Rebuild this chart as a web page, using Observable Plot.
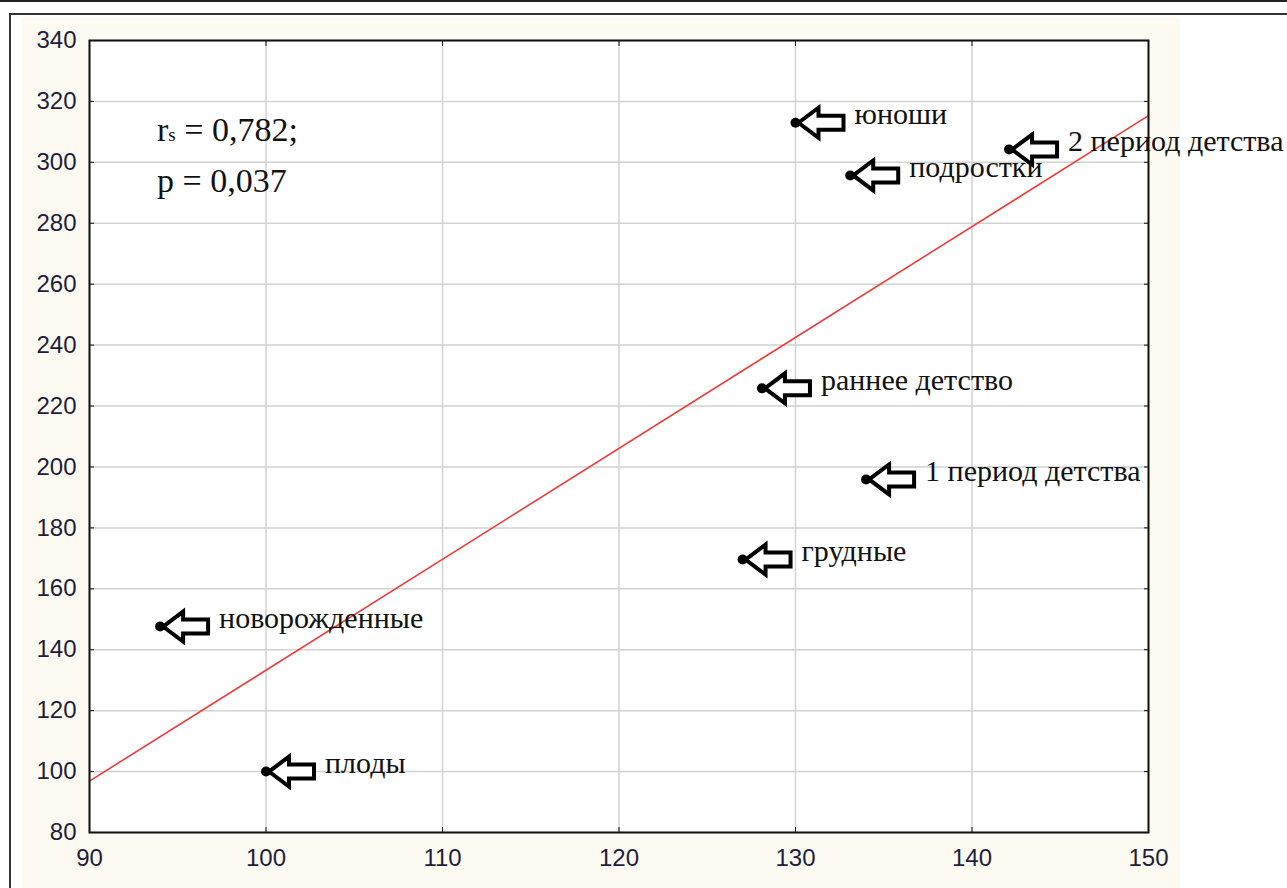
<!DOCTYPE html>
<html><head><meta charset="utf-8">
<script src="https://cdn.jsdelivr.net/npm/d3@7"></script>
<script src="https://cdn.jsdelivr.net/npm/@observablehq/plot@0.6"></script>
<style>
html,body{margin:0;padding:0;background:#fff;overflow:hidden;width:1287px;height:888px}
#topline{position:absolute;left:0;top:0;width:1287px;height:2px;background:#222}
#box{position:absolute;left:9px;top:13px;width:1300px;height:900px;border:2px solid #333;box-sizing:border-box}
#cream{position:absolute;left:22px;top:18px;width:1158px;height:870px;background:#fdfaf1}
#chart{position:absolute;left:0;top:0}
</style></head><body>
<div id="topline"></div><div id="box"></div><div id="cream"></div><div id="chart"></div>
<script>
// ---- data ----
const groups  = ["юноши", "2 период детства", "подростки", "раннее детство", "1 период детства", "грудные", "новорожденные", "плоды"];
const xValues = [130.0, 142.1, 133.1, 128.1, 134.0, 127.0, 94.0, 100.0];
const yValues = [313.0, 304.2, 295.7, 225.8, 195.9, 169.6, 147.6, 100.0];
const xTicks  = [90, 100, 110, 120, 130, 140, 150];
const yTicks  = [80, 100, 120, 140, 160, 180, 200, 220, 240, 260, 280, 300, 320, 340];
const rsValue = "0,782";
const pValue  = "0,037";

const data = groups.map((g, i) => ({group: g, x: xValues[i], y: yValues[i]}));

// least-squares regression line over the full x domain
const mx = d3.mean(xValues), my = d3.mean(yValues);
const slope = d3.sum(xValues, (x, i) => (x - mx) * (yValues[i] - my)) / d3.sum(xValues, x => (x - mx) ** 2);
const xDomain = d3.extent(xTicks);
const fitLine = xDomain.map(x => ({x, y: my + slope * (x - mx)}));

// hollow left-pointing arrow, tip at the point
const arrowSymbol = {
  draw(ctx) {
    ctx.moveTo(3, 0); ctx.lineTo(23, -15); ctx.lineTo(23, -7); ctx.lineTo(48, -7);
    ctx.lineTo(48, 7); ctx.lineTo(23, 7); ctx.lineTo(23, 15); ctx.closePath();
  }
};

const tickFont = "Liberation Sans, Arial, sans-serif";
const serif = "Liberation Serif, Times New Roman, serif";

const plot = Plot.plot({
  width: 1287, height: 888,
  marginLeft: 89, marginRight: 139, marginTop: 40, marginBottom: 56,
  style: {background: "transparent", overflow: "visible"},
  x: {domain: xDomain, axis: null},
  y: {domain: d3.extent(yTicks), axis: null},
  marks: [
    Plot.frame({fill: "white", stroke: null}),
    Plot.gridX(xTicks, {stroke: "#d2d2d2", strokeOpacity: 1, strokeWidth: 1.5}),
    Plot.gridY(yTicks, {stroke: "#d2d2d2", strokeOpacity: 1, strokeWidth: 1.5}),
    Plot.line(fitLine, {x: "x", y: "y", stroke: "#ee3b3b", strokeWidth: 1.6}),
    Plot.dot(data, {x: "x", y: "y", symbol: arrowSymbol, fill: "white", stroke: "black", strokeWidth: 4, strokeLinejoin: "miter"}),
    Plot.dot(data, {x: "x", y: "y", r: 5, fill: "black", stroke: null}),
    Plot.text(data, {x: "x", y: "y", text: "group", dx: 59, dy: -8, textAnchor: "start", fontFamily: serif, fontSize: 30, fill: "#111"}),
    Plot.frame({stroke: "#111", strokeWidth: 2}),
    Plot.axisX(xTicks, {anchor: "bottom", tickSize: -5, fill: "none", stroke: "#111", label: null}),
    Plot.axisX(xTicks, {anchor: "top", tickSize: -5, fill: "none", stroke: "#111", label: null}),
    Plot.axisY(yTicks, {anchor: "left", tickSize: -5, fill: "none", stroke: "#111", label: null}),
    Plot.axisY(yTicks, {anchor: "right", tickSize: -5, fill: "none", stroke: "#111", label: null}),
    Plot.axisX(xTicks, {anchor: "bottom", tickSize: 0, tickPadding: 16, fontSize: 24, fontFamily: tickFont, fill: "#1e1e3c", label: null}),
    Plot.axisY(yTicks, {anchor: "left", tickSize: 0, tickPadding: 13, fontSize: 24, fontFamily: tickFont, fill: "#1e1e3c", label: null})
  ]
});
document.getElementById("chart").appendChild(plot);

// correlation annotation (with subscript s)
const svg = d3.select(plot);
const ann = svg.append("g").attr("font-family", serif).attr("fill", "#111").attr("text-anchor", "start");
const t1 = ann.append("text").attr("x", 157).attr("y", 141).attr("font-size", 34);
t1.append("tspan").text("r");
t1.append("tspan").attr("font-size", 19).text("s");
t1.append("tspan").text(" = " + rsValue + ";");
ann.append("text").attr("x", 157).attr("y", 192).attr("font-size", 34).text("p = " + pValue);
</script>
</body></html>
